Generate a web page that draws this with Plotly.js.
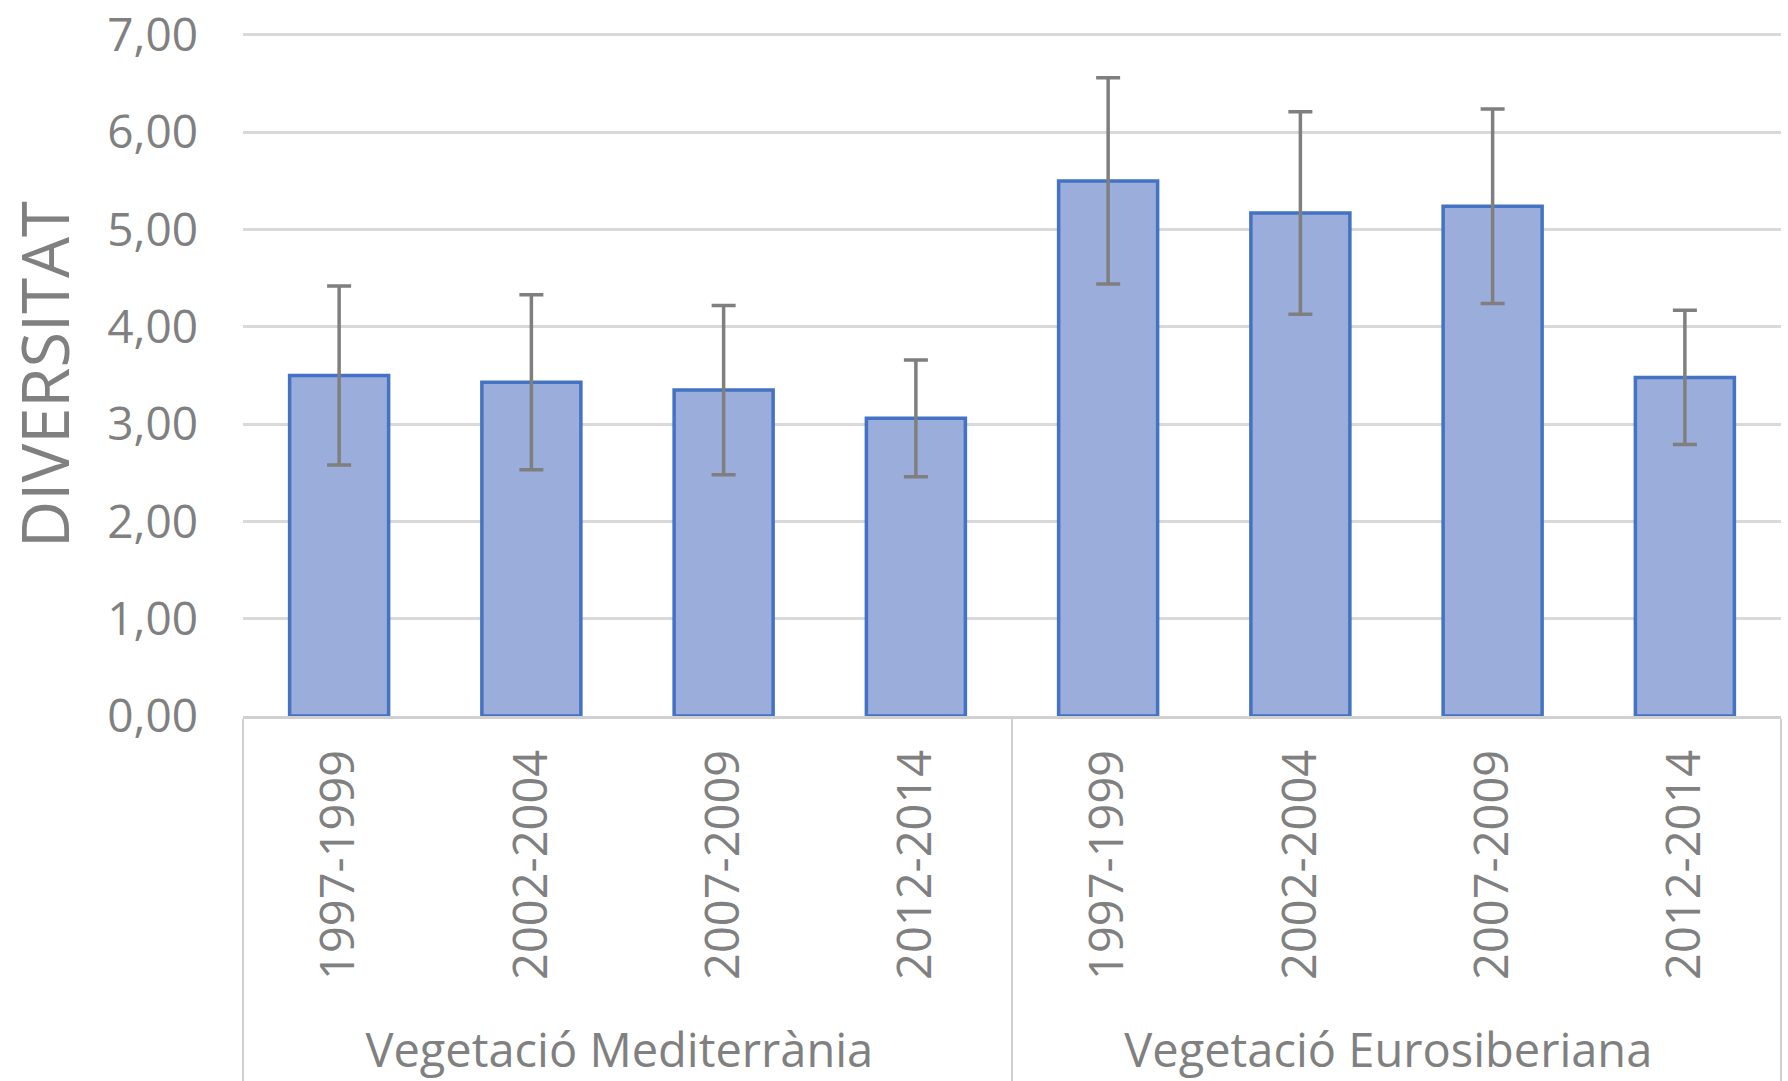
<!DOCTYPE html>
<html>
<head>
<meta charset="utf-8">
<script src="https://cdn.plot.ly/plotly-3.0.1.min.js"></script>
<style>
html,body{margin:0;padding:0;background:#fff;}
#chart{width:1788px;height:1081px;}
</style>
</head>
<body>
<div id="chart"></div>
<script>
const groups = ['Vegetació Mediterrània','Vegetació Mediterrània','Vegetació Mediterrània','Vegetació Mediterrània',
                'Vegetació Eurosiberiana','Vegetació Eurosiberiana','Vegetació Eurosiberiana','Vegetació Eurosiberiana'];
const periods = ['1997-1999','2002-2004','2007-2009','2012-2014','1997-1999','2002-2004','2007-2009','2012-2014'];
const diversitat = [3.50, 3.43, 3.35, 3.06, 5.50, 5.17, 5.24, 3.48];
const errors = [0.92, 0.90, 0.87, 0.60, 1.06, 1.04, 1.00, 0.69];
const yTicks = [0,1,2,3,4,5,6,7];

const textColor = '#808080';
const font = 'Open Sans, Noto Sans, sans-serif';

// a non-breaking space before each period label only adds a little room below the rotated labels
const periodLabels = periods.map(p => '\u00a0' + p);

const trace = {
  type: 'bar',
  x: [groups, periodLabels],
  y: diversitat,
  marker: {color: '#9badda', line: {color: '#4472c4', width: 3.5}},
  error_y: {type: 'data', array: errors, visible: true, color: '#7f7f7f', thickness: 3.5, width: 12},
  hoverinfo: 'y'
};

const layout = {
  width: 1788, height: 1081,
  margin: {l: 243, r: 7, t: 33, b: 365, pad: 0},
  paper_bgcolor: '#ffffff', plot_bgcolor: '#ffffff',
  separators: ',.',
  showlegend: false,
  bargap: 0.485,
  font: {family: font, color: textColor, size: 47},
  xaxis: {
    type: 'multicategory',
    tickangle: -90,
    tickfont: {family: font, size: 47, color: textColor},
    showline: true, linecolor: '#d0d0d0', linewidth: 3,
    ticks: '', ticklabelstandoff: 12,
    showdividers: true, dividercolor: '#d0d0d0', dividerwidth: 2.5,
    showgrid: false, zeroline: false
  },
  yaxis: {
    range: [0, 7.02],
    tickvals: yTicks,
    tickformat: '.2f',
    tickfont: {family: font, size: 46, color: textColor},
    ticklabeloverflow: 'allow',
    showgrid: true, gridcolor: '#d9d9d9', gridwidth: 3,
    zeroline: false, showline: false,
    ticks: '', ticklabelstandoff: 44,
    title: {text: 'DIVERSITAT', font: {family: font, size: 65, color: textColor}, standoff: 38}
  }
};

Plotly.newPlot('chart', [trace], layout, {displayModeBar: false, staticPlot: true});
</script>
</body>
</html>
